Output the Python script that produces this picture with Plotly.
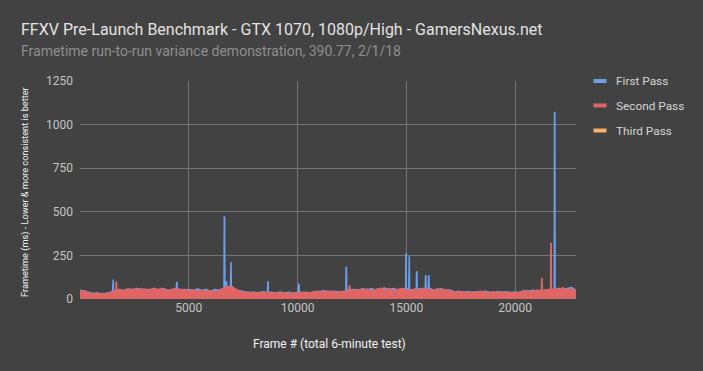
import plotly.graph_objects as go

# ---- data ----
step_frames = list(range(0, 22801, 200))

first_pass_band = [50, 44, 38, 31, 35, 30, 33, 38, 46, 52, 50, 54, 56, 55, 58, 52, 55, 57, 50, 61,
                   52, 50, 58, 55, 52, 55, 48, 58, 47, 56, 44, 55, 50, 60, 65, 70, 50, 45, 41, 36,
                   40, 35, 42, 36, 38, 34, 40, 35, 38, 33, 40, 36, 39, 34, 43, 41, 47, 42, 45, 42,
                   40, 46, 52, 55, 50, 58, 52, 60, 50, 57, 63, 55, 60, 52, 58, 62, 55, 52, 60, 55,
                   64, 52, 55, 58, 50, 52, 40, 45, 38, 43, 37, 42, 38, 45, 40, 36, 43, 38, 41, 36,
                   40, 36, 48, 44, 50, 46, 50, 48, 56, 52, 62, 55, 60, 66, 50]

second_pass_band = [42, 48, 34, 30, 32, 29, 31, 36, 48, 55, 47, 58, 50, 61, 52, 57, 49, 62, 54, 58,
                    47, 55, 60, 51, 56, 46, 53, 44, 50, 42, 48, 41, 52, 63, 72, 66, 55, 42, 36, 39,
                    33, 37, 34, 38, 32, 36, 33, 37, 31, 35, 34, 38, 33, 36, 40, 44, 39, 46, 41, 38,
                    43, 40, 58, 47, 55, 50, 57, 48, 54, 62, 52, 58, 49, 56, 60, 53, 47, 58, 51, 62,
                    55, 48, 57, 50, 54, 46, 43, 38, 42, 35, 40, 36, 44, 39, 34, 41, 37, 40, 35, 38,
                    33, 39, 42, 47, 40, 52, 45, 54, 48, 60, 55, 64, 52, 58, 45]

first_pass_spike_frames = [1520, 4450, 6640, 6730, 6935, 8640, 10060, 12240, 14990, 15130, 15480, 15890, 16030, 21820]
first_pass_spike_values = [112, 95, 470, 97, 212, 97, 84, 180, 258, 245, 155, 132, 132, 1070]

second_pass_spike_frames = [1670, 12390, 21230, 21650]
second_pass_spike_values = [98, 80, 118, 318]

series_names = ["First Pass", "Second Pass", "Third Pass"]
series_colors = ["#6d9eeb", "#e06666", "#f6b26b"]

x_tick_values = [5000, 10000, 15000, 20000]
y_tick_values = [0, 250, 500, 750, 1000, 1250]

assert len(first_pass_band) == len(step_frames)
assert len(second_pass_band) == len(step_frames)


def build(band, spike_frames, spike_values):
    pts = list(zip(step_frames, band))
    for f, v in zip(spike_frames, spike_values):
        base = band[min(range(len(step_frames)), key=lambda i: abs(step_frames[i] - f))]
        pts += [(f - 20, base), (f - 8, v), (f + 8, v), (f + 20, base)]
    pts.sort(key=lambda p: p[0])
    return [p[0] for p in pts], [p[1] for p in pts]


fig = go.Figure()
fx, fy = build(first_pass_band, first_pass_spike_frames, first_pass_spike_values)
sx, sy = build(second_pass_band, second_pass_spike_frames, second_pass_spike_values)

fig.add_trace(go.Scatter(x=fx, y=fy, mode="lines", name=series_names[0],
                         line=dict(color=series_colors[0], width=1.5),
                         fill="tozeroy", fillcolor=series_colors[0], showlegend=False))
fig.add_trace(go.Scatter(x=sx, y=sy, mode="lines", name=series_names[1],
                         line=dict(color=series_colors[1], width=1.5),
                         fill="tozeroy", fillcolor=series_colors[1], showlegend=False))
fig.add_trace(go.Scatter(x=[], y=[], mode="lines", name=series_names[2],
                         line=dict(color=series_colors[2], width=1.5), showlegend=False))

L, R, T, B = 80, 127, 81, 72
W, H = 703, 371
pw, ph = W - L - R, H - T - B


def px(xp):
    return (xp - L) / pw


def py(yp):
    return (H - B - yp) / ph


annotations = [
    dict(text="FFXV Pre-Launch Benchmark - GTX 1070, 1080p/High - GamersNexus.net",
         x=px(19), y=py(29), xanchor="left", yanchor="middle",
         font=dict(size=16, color="#e3e3e3", family="Roboto")),
    dict(text="Frametime run-to-run variance demonstration, 390.77, 2/1/18",
         x=px(19), y=py(51), xanchor="left", yanchor="middle",
         font=dict(size=14, color="#8f8f8f", family="Roboto")),
    dict(text="Frametime (ms) - Lower & more consistent is better", textangle=-90,
         x=px(25), y=py(192), xanchor="center", yanchor="middle",
         font=dict(size=9.2, color="#f2f2f2", family="Roboto")),
    dict(text="Frame # (total 6-minute test)",
         x=px(329), y=py(344), xanchor="center", yanchor="middle",
         font=dict(size=12, color="#f2f2f2", family="Roboto")),
]
shapes = []
legend_rows = [81, 105.5, 130.5]
for name, color, yrow in zip(series_names, series_colors, legend_rows):
    shapes.append(dict(type="rect", xref="paper", yref="paper",
                       x0=px(593.5), x1=px(606.5), y0=py(yrow - 2), y1=py(yrow + 2),
                       fillcolor=color, line=dict(width=0)))
    annotations.append(dict(text=name, x=px(614), y=py(yrow), xanchor="left", yanchor="middle",
                            font=dict(size=11.8, color="#d6d6d6", family="Roboto")))
for a in annotations:
    a.update(xref="paper", yref="paper", showarrow=False)

fig.update_layout(
    width=W, height=H,
    margin=dict(l=L, r=R, t=T, b=B),
    paper_bgcolor="#424242", plot_bgcolor="#424242",
    font=dict(family="Roboto", color="#bdbdbd", size=12),
    showlegend=False,
    annotations=annotations,
    shapes=shapes,
    xaxis=dict(range=[0, 22800], tickvals=x_tick_values, ticktext=[str(v) for v in x_tick_values],
               showgrid=True, gridcolor="#757575", gridwidth=1, zeroline=False, showline=False,
               ticks="", tickfont=dict(size=12, color="#c4c4c4"), fixedrange=True),
    yaxis=dict(range=[0, 1250], tickvals=y_tick_values,
               showgrid=True, gridcolor="#757575", gridwidth=1, zeroline=False, showline=False,
               ticks="", ticklabelstandoff=6, tickfont=dict(size=12, color="#c4c4c4"), fixedrange=True),
)

fig.write_html("out.html")
